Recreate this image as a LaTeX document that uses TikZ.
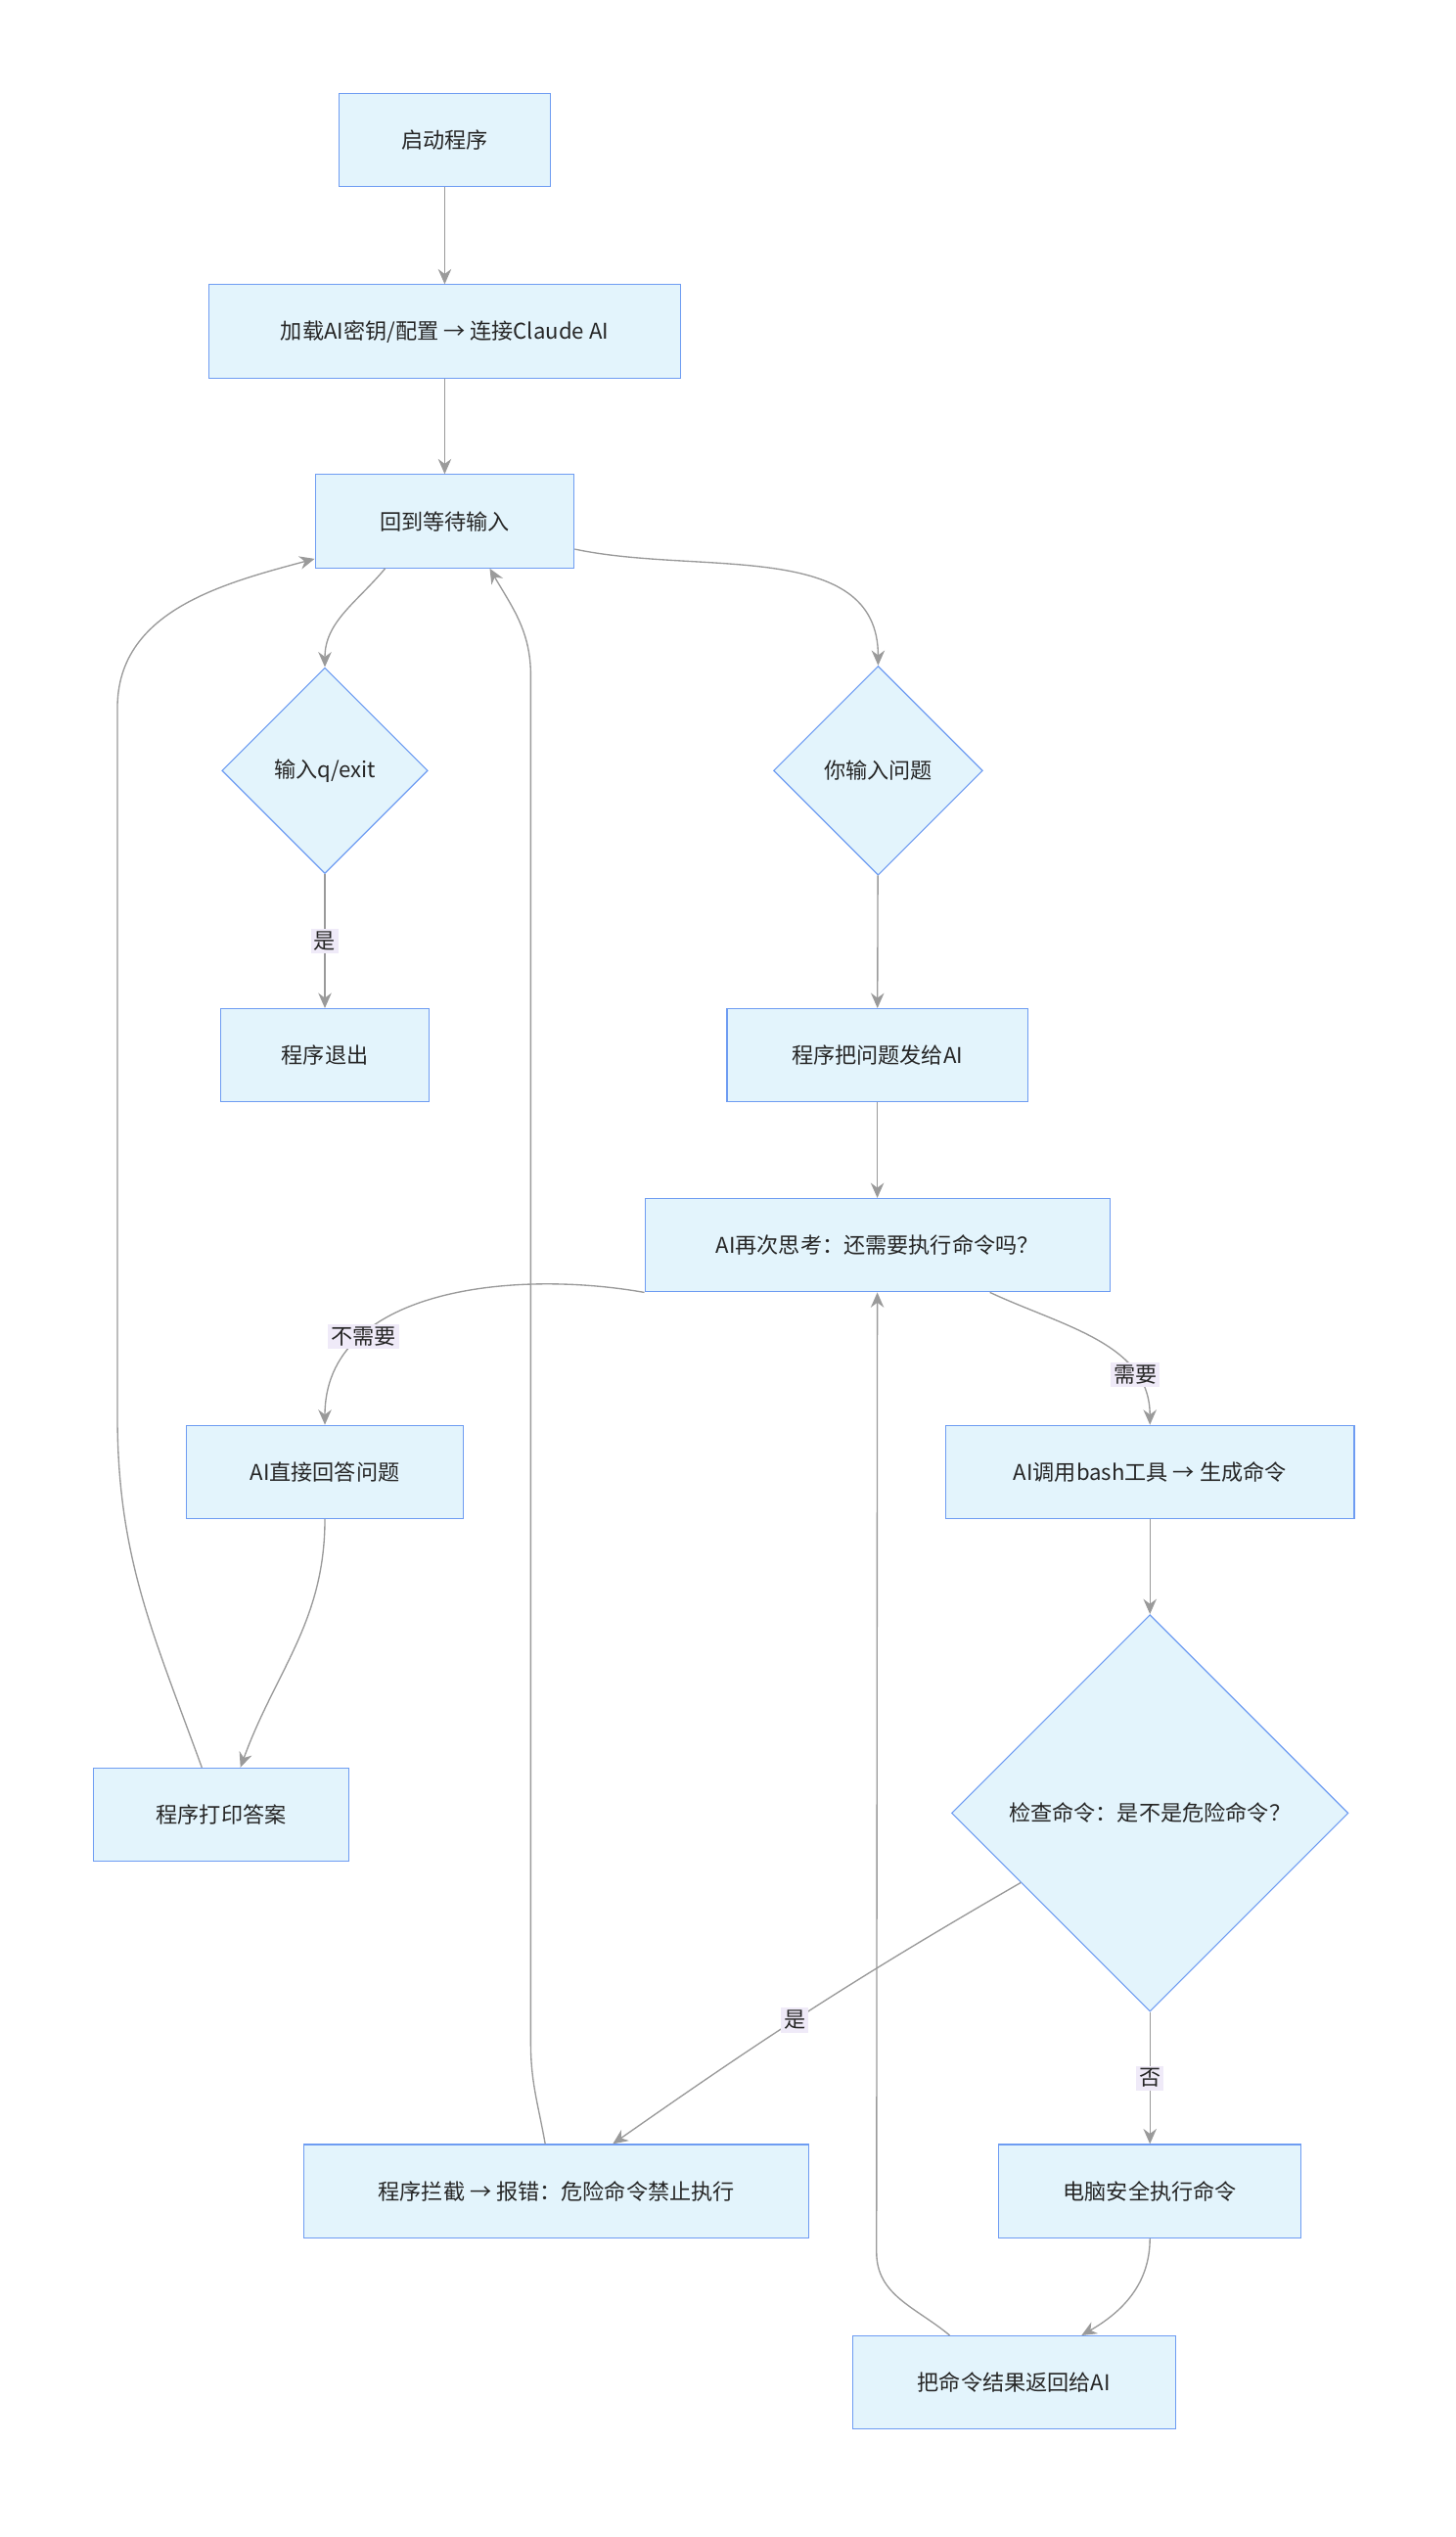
\documentclass[tikz,border=0pt]{standalone}
\usepackage{fontspec}
\setmainfont{Noto Sans CJK SC}
\usetikzlibrary{arrows.meta,positioning,calc,shapes.geometric}
\definecolor{boxfill}{HTML}{E3F4FC}
\definecolor{boxline}{HTML}{6E9CF2}
\definecolor{edgegray}{HTML}{9A9A9A}
\definecolor{lblfill}{HTML}{EFEAF8}
\begin{document}
\begin{tikzpicture}[x=0.03cm, y=-0.03cm,
  every node/.style={font=\fontsize{11.5}{14}\selectfont, text=black!85},
  box/.style={draw=boxline, fill=boxfill, line width=0.6pt, minimum height=1.74cm, inner sep=0pt},
  dia/.style={draw=boxline, fill=boxfill, line width=0.6pt, diamond, inner sep=0pt, minimum size=#1},
  edge/.style={draw=edgegray, line width=0.7pt, -{Stealth[length=8pt,width=7pt]}},
  lbl/.style={fill=lblfill, inner sep=1.5pt}]
\useasboundingbox (0,0) rectangle (905,1577);
% boxes and decisions
\node[box, minimum width=3.93cm] (start)  at (276.5,87)  {启动程序};
\node[box, minimum width=8.79cm] (load)   at (276.5,206) {加载AI密钥/配置 → 连接Claude AI};
\node[box, minimum width=4.83cm] (wait)   at (276.5,324) {回到等待输入};
\node[dia=3.84cm]                (quit)   at (202,479)   {输入q/exit};
\node[dia=3.9cm]                 (ask)    at (546,479)   {你输入问题};
\node[box, minimum width=3.9cm]  (exit)   at (202,656)   {程序退出};
\node[box, minimum width=5.61cm] (send)   at (545.5,656) {程序把问题发给AI};
\node[box, minimum width=8.67cm] (think)  at (545.5,774) {AI再次思考：还需要执行命令吗？};
\node[box, minimum width=5.16cm] (direct) at (202,915)   {AI直接回答问题};
\node[box, minimum width=7.62cm] (call)   at (715,915)   {AI调用bash工具 → 生成命令};
\node[dia=7.4cm]                 (check)  at (715,1127)  {检查命令：是不是危险命令？};
\node[box, minimum width=4.77cm] (print)  at (137.5,1128) {程序打印答案};
\node[box, minimum width=9.42cm] (block)  at (346,1362)  {程序拦截 → 报错：危险命令禁止执行};
\node[box, minimum width=5.64cm] (safe)   at (715,1362)  {电脑安全执行命令};
\node[box, minimum width=6.03cm] (result) at (630.5,1481) {把命令结果返回给AI};
% connectors
\draw[edge] (start) -- (load);
\draw[edge] (load) -- (wait);
\draw[edge] ($(wait.south)+(-37,0)$) to[out=-130,in=90] (quit.north);
\draw[edge] ($(wait.south east)+(0,-12)$) to[out=-12,in=90] (ask.north);
\draw[edge] (quit) -- node[lbl] {是} (exit);
\draw[edge] (ask) -- (send);
\draw[edge] (send) -- (think);
\draw[edge] (think.south west) to[out=170,in=90] node[lbl, pos=0.72] {不需要} (direct.north);
\draw[edge] ($(think.south)+(70,0)$) to[out=-25,in=90] node[lbl, pos=0.75] {需要} (call.north);
\draw[edge] (direct.south) to[out=-90,in=70] ($(print.north)+(12,0)$);
\draw[edge] ($(print.north)+(-12,0)$) to[out=110,in=-90] (73,880) -- (73,440) to[out=90,in=195] ($(wait.south west)+(0,-6)$);
\draw[edge] (call) -- (check);
\draw[edge] ($(check.west)!0.35!(check.south)$) to[out=-150,in=35] node[lbl, pos=0.55] {是} ($(block.north)+(35,0)$);
\draw[edge] (check) -- node[lbl] {否} (safe);
\draw[edge] (safe.south) to[out=-90,in=30] ($(result.north)+(42,0)$);
\draw[edge] ($(result.north)+(-40,0)$) to[out=140,in=-90] (545,1400) -- (think.south);
\draw[edge] ($(block.north)+(-7,0)$) to[out=100,in=-90] (330,1270) -- (330,420) to[out=90,in=-60] ($(wait.south)+(28,0)$);
\end{tikzpicture}
\end{document}
